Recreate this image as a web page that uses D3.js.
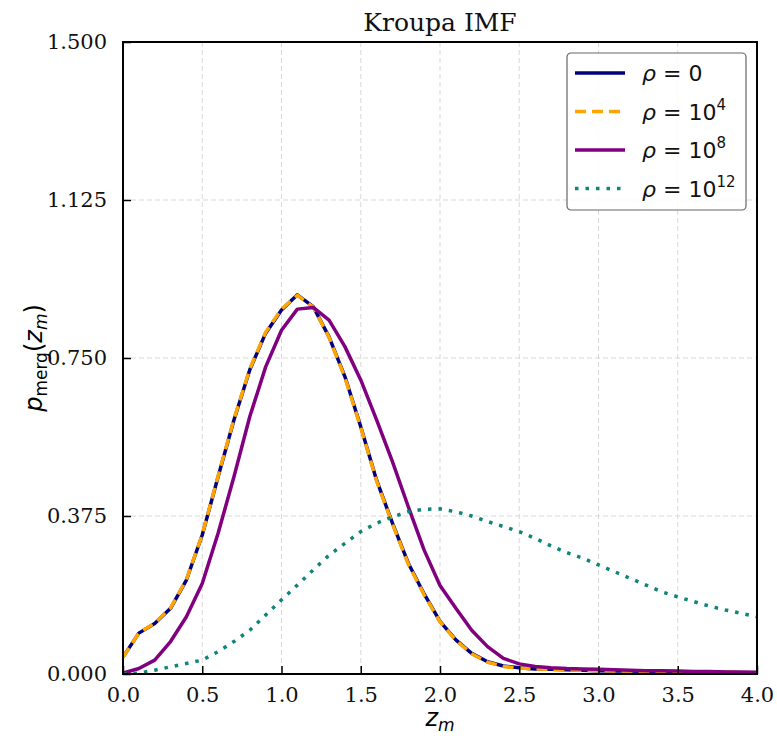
<!DOCTYPE html>
<html>
<head>
<meta charset="utf-8">
<script src="https://cdn.jsdelivr.net/npm/d3@7"></script>
<style>
  body { margin: 0; background: #fff; }
  svg { display: block; }
</style>
</head>
<body>
<script>
const W = 777, H = 736;
const margin = {top: 42, right: 20, bottom: 62, left: 123};

// x grid of the curves (z_m)
const zm = [0.0,0.1,0.2,0.3,0.4,0.5,0.6,0.7,0.8,0.9,1.0,1.1,1.2,1.3,1.4,1.5,1.6,1.7,1.8,1.9,
  2.0,2.1,2.2,2.3,2.4,2.5,2.6,2.7,2.8,2.9,3.0,3.1,3.2,3.3,3.4,3.5,3.6,3.7,3.8,3.9,4.0];

const rho0 = [0.040,0.097,0.120,0.156,0.223,0.330,0.468,0.603,0.722,0.809,0.864,0.900,0.872,0.800,0.706,0.587,0.460,0.358,0.263,0.190,
  0.125,0.081,0.049,0.029,0.019,0.015,0.012,0.011,0.010,0.009,0.008,0.007,0.007,0.006,0.006,0.005,0.005,0.004,0.004,0.003,0.003];
const rho4 = [0.040,0.097,0.121,0.157,0.224,0.331,0.470,0.605,0.724,0.811,0.866,0.899,0.871,0.799,0.704,0.585,0.458,0.356,0.261,0.188,
  0.124,0.080,0.048,0.028,0.018,0.014,0.012,0.011,0.010,0.009,0.008,0.007,0.007,0.006,0.006,0.005,0.005,0.004,0.004,0.003,0.003];
const rho8 = [0.002,0.013,0.033,0.077,0.136,0.215,0.334,0.468,0.611,0.729,0.816,0.866,0.870,0.840,0.777,0.698,0.603,0.504,0.397,0.294,
  0.210,0.156,0.104,0.065,0.037,0.024,0.018,0.015,0.013,0.012,0.011,0.010,0.009,0.008,0.008,0.007,0.006,0.006,0.005,0.005,0.004];
const rho12 = [0.000,0.002,0.009,0.017,0.025,0.033,0.053,0.077,0.104,0.140,0.176,0.211,0.247,0.282,0.310,0.338,0.358,0.373,0.385,0.391,
  0.392,0.385,0.375,0.362,0.350,0.338,0.322,0.304,0.288,0.275,0.259,0.243,0.227,0.211,0.195,0.183,0.172,0.161,0.152,0.144,0.136];

const xTicks = [0, 0.5, 1, 1.5, 2, 2.5, 3, 3.5, 4];
const yTicks = [0, 0.375, 0.75, 1.125, 1.5];

const series = [
  {exp: null, values: rho0,  color: "#000080", dash: null},
  {exp: "4",  values: rho4,  color: "#FFA500", dash: "11,6"},
  {exp: "8",  values: rho8,  color: "#800080", dash: null},
  {exp: "12", values: rho12, color: "#0e8577", dash: "3.5,7"}
];

const iw = W - margin.left - margin.right;
const ih = H - margin.top - margin.bottom;

const svg = d3.select("body").append("svg")
  .attr("width", W).attr("height", H);

const g = svg.append("g")
  .attr("transform", `translate(${margin.left},${margin.top})`);

const x = d3.scaleLinear().domain([0, 4]).range([0, iw]);
const y = d3.scaleLinear().domain([0, 1.5]).range([ih, 0]);

// grid
g.append("g").selectAll("line").data(xTicks.slice(1, -1)).enter().append("line")
  .attr("x1", d => x(d)).attr("x2", d => x(d))
  .attr("y1", 0).attr("y2", ih)
  .attr("stroke", "#d9d9d9").attr("stroke-width", 1).attr("stroke-dasharray", "5,3");
g.append("g").selectAll("line").data(yTicks.slice(1, -1)).enter().append("line")
  .attr("x1", 0).attr("x2", iw)
  .attr("y1", d => y(d)).attr("y2", d => y(d))
  .attr("stroke", "#d9d9d9").attr("stroke-width", 1).attr("stroke-dasharray", "5,3");

// curves
g.append("clipPath").attr("id", "clip")
  .append("rect").attr("width", iw).attr("height", ih);

const line = d3.line().x((d, i) => x(zm[i])).y(d => y(d));

g.append("g").attr("clip-path", "url(#clip)")
  .selectAll("path").data(series).enter().append("path")
  .attr("d", d => line(d.values))
  .attr("fill", "none")
  .attr("stroke", d => d.color)
  .attr("stroke-width", 3.5)
  .attr("stroke-linejoin", "round")
  .attr("stroke-dasharray", d => d.dash);

// axes
const xAxis = d3.axisBottom(x).tickValues(xTicks).tickFormat(d3.format(".1f"))
  .tickSizeInner(-8).tickSizeOuter(0).tickPadding(10);
const yAxis = d3.axisLeft(y).tickValues(yTicks).tickFormat(d3.format(".3f"))
  .tickSizeInner(-8).tickSizeOuter(0).tickPadding(16);

const gx = g.append("g").attr("transform", `translate(0,${ih})`).call(xAxis);
const gy = g.append("g").call(yAxis);
[gx, gy].forEach(a => {
  a.select(".domain").remove();
  a.selectAll(".tick line").attr("stroke", "#000").attr("stroke-width", 1.5);
  a.selectAll(".tick text")
    .attr("fill", "#111")
    .style("font-family", "'DejaVu Serif', serif")
    .style("font-size", "21px");
});
gx.selectAll(".tick text").attr("dy", "0.85em");

// frame
g.append("rect").attr("width", iw).attr("height", ih)
  .attr("fill", "none").attr("stroke", "#000").attr("stroke-width", 2);

// title
svg.append("text")
  .attr("x", margin.left + iw / 2).attr("y", 31)
  .attr("text-anchor", "middle")
  .style("font-family", "'DejaVu Serif', serif")
  .style("font-size", "25px")
  .attr("fill", "#111")
  .text("Kroupa IMF");

// x label
const xl = svg.append("text")
  .attr("x", margin.left + iw / 2).attr("y", 726)
  .attr("text-anchor", "middle")
  .style("font-family", "'DejaVu Sans', sans-serif")
  .style("font-size", "24px");
xl.append("tspan").style("font-style", "italic").text("z");
xl.append("tspan").style("font-style", "italic").style("font-size", "17px").attr("dy", 5).text("m");

// y label
const yl = svg.append("text")
  .attr("transform", `translate(42,${margin.top + ih / 2}) rotate(-90)`)
  .attr("text-anchor", "middle")
  .style("font-family", "'DejaVu Sans', sans-serif")
  .style("font-size", "24px");
yl.append("tspan").style("font-style", "italic").text("p");
yl.append("tspan").style("font-size", "17px").attr("dy", 5).text("merg");
yl.append("tspan").attr("dy", -5).text("(");
yl.append("tspan").style("font-style", "italic").text("z");
yl.append("tspan").style("font-style", "italic").style("font-size", "17px").attr("dy", 5).text("m");
yl.append("tspan").attr("dy", -5).text(")");

// legend
const lg = svg.append("g").attr("transform", "translate(567,53)");
lg.append("rect").attr("width", 179).attr("height", 157).attr("rx", 4)
  .attr("fill", "#fff").attr("fill-opacity", 0.85)
  .attr("stroke", "#666").attr("stroke-width", 1.2);

const rows = lg.selectAll("g.row").data(series).enter().append("g")
  .attr("class", "row")
  .attr("transform", (d, i) => `translate(0,${20 + i * 38.5})`);
rows.append("line")
  .attr("x1", 8).attr("x2", 58)
  .attr("stroke", d => d.color).attr("stroke-width", 3.5)
  .attr("stroke-dasharray", d => d.dash);
const lt = rows.append("text")
  .attr("x", 75).attr("y", 8)
  .style("font-family", "'DejaVu Sans', sans-serif")
  .style("font-size", "22px")
  .attr("fill", "#111");
lt.append("tspan").style("font-style", "italic").text("ρ");
lt.append("tspan").text(d => d.exp ? " = 10" : " = 0");
lt.filter(d => d.exp).append("tspan")
  .style("font-size", "15px").attr("dy", -10).text(d => d.exp);
</script>
</body>
</html>
